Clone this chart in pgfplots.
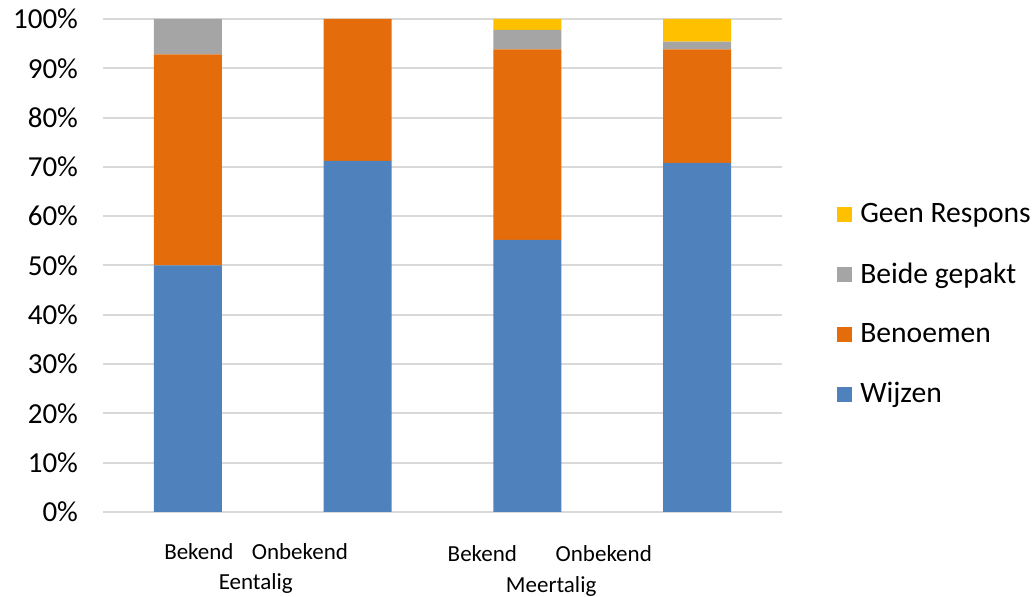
\documentclass[border=0pt]{standalone}
\usepackage{pgfplots}
\pgfplotsset{compat=1.18}
\usepackage{fontspec}
\setmainfont{Carlito}
\definecolor{cW}{HTML}{4F81BD}
\definecolor{cB}{HTML}{E46C0A}
\definecolor{cG}{HTML}{A5A5A5}
\definecolor{cY}{HTML}{FFC000}
\definecolor{gridc}{HTML}{D9D9D9}
\newcommand\bigf{\fontsize{14.5}{17}\selectfont}
\newcommand\legf{\fontsize{14.8}{17}\selectfont}
\newcommand\smallf{\fontsize{11.5}{14}\selectfont}
\tikzset{catlab/.style={font=\smallf, anchor=base, inner sep=0pt}}
\pgfplotsset{sqlegend/.style={legend image code/.code={\fill[##1] (0pt,-3.75pt) rectangle (7.5pt,3.75pt);}}}
\begin{document}
\begin{tikzpicture}
\path[use as bounding box] (-51.5pt,-42.5pt) rectangle (465.5pt,256pt);
\begin{axis}[
  at={(0,0)}, anchor=south west,
  scale only axis, width=339.5pt, height=246.5pt,
  ybar stacked, bar width=34pt,
  xmin=-0.5, xmax=3.5, ymin=0, ymax=100,
  xtick=\empty,
  ytick={0,10,20,30,40,50,60,70,80,90,100},
  yticklabels={0\%,10\%,20\%,30\%,40\%,50\%,60\%,70\%,80\%,90\%,100\%},
  yticklabel style={font=\bigf, xshift=-9pt},
  major tick length=0pt,
  ymajorgrids, grid style={draw=gridc, line width=1pt},
  axis line style={draw=none},
  clip=false,
  legend cell align=left,
  legend style={at={(1.072,0.421)}, anchor=west, draw=none, fill=none,
    font=\legf, row sep=14.6pt, column sep=2pt},
]
\addplot[fill=cW, draw=none, forget plot] coordinates {(0,50) (1,71.2) (2,55.2) (3,70.8)};
\addplot[fill=cB, draw=none, forget plot] coordinates {(0,42.8) (1,28.8) (2,38.65) (3,23.05)};
\addplot[fill=cG, draw=none, forget plot] coordinates {(0,7.2) (1,0) (2,3.95) (3,1.55)};
\addplot[fill=cY, draw=none, forget plot] coordinates {(0,0) (1,0) (2,2.2) (3,4.6)};
\addlegendimage{sqlegend, fill=cY, draw=none}
\addlegendentry{Geen Respons}
\addlegendimage{sqlegend, fill=cG, draw=none}
\addlegendentry{Beide gepakt}
\addlegendimage{sqlegend, fill=cB, draw=none}
\addlegendentry{Benoemen}
\addlegendimage{sqlegend, fill=cW, draw=none}
\addlegendentry{Wijzen}
\node[catlab] at (axis cs:0.065,0) [yshift=-24pt] {Bekend};
\node[catlab] at (axis cs:0.66,0) [yshift=-24pt] {Onbekend};
\node[catlab] at (axis cs:0.40,0) [yshift=-39pt] {Eentalig};
\node[catlab] at (axis cs:1.735,0) [yshift=-24.7pt] {Bekend};
\node[catlab] at (axis cs:2.45,0) [yshift=-24.7pt] {Onbekend};
\node[catlab] at (axis cs:2.14,0) [yshift=-40.5pt] {Meertalig};
\end{axis}
\end{tikzpicture}
\end{document}
